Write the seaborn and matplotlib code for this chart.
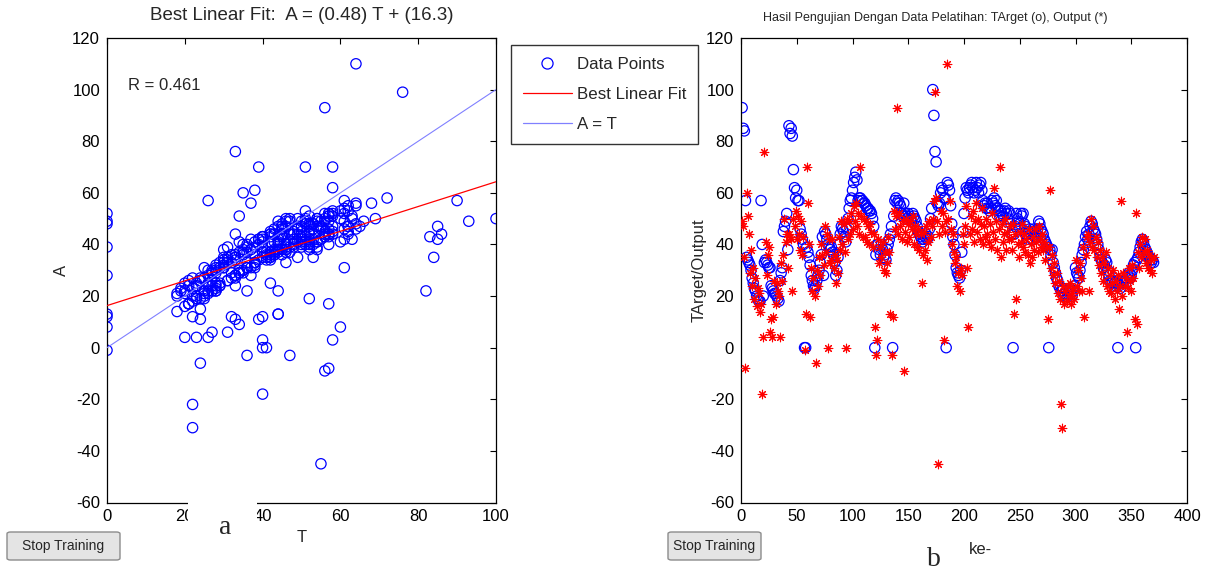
import numpy as np
import pandas as pd
import matplotlib
matplotlib.use("Agg")
import matplotlib.pyplot as plt
import seaborn as sns
from matplotlib.lines import Line2D
from matplotlib.patches import FancyBboxPatch, Rectangle

# target (o) per sample, samples 1..370
target = [
    93, 85, 84, 57, 35, 34, 33, 32, 30, 27,
    25, 23, 22, 20, 19, 18, 18, 57, 40, 20,
    33, 34, 33, 32, 31, 31, 24, 23, 22, 21,
    21, 20, 19, 18, 26, 29, 31, 45, 47, 49,
    52, 38, 86, 83, 85, 82, 69, 62, 58, 61,
    57, 57, 46, 44, 42, 40, 0, 0, 39, 37,
    35, 32, 28, 26, 24, 23, 24, 26, 28, 30,
    33, 36, 43, 28, 45, 44, 42, 40, 39, 38,
    39, 37, 36, 33, 28, 30, 35, 40, 44, 47,
    46, 45, 43, 41, 46, 50, 54, 57, 58, 61,
    64, 66, 68, 65, 57, 58, 58, 57, 57, 56,
    56, 55, 54, 54, 53, 53, 52, 50, 47, 0,
    36, 40, 40, 38, 36, 40, 38, 35, 36, 34,
    38, 40, 42, 44, 47, 0, 51, 57, 58, 56,
    57, 56, 55, 52, 51, 56, 52, 51, 50, 52,
    51, 50, 49, 52, 51, 50, 49, 47, 45, 44,
    43, 42, 41, 42, 43, 44, 42, 43, 46, 50,
    54, 100, 90, 76, 72, 56, 55, 56, 60, 62,
    61, 58, 58, 0, 64, 63, 61, 55, 48, 43,
    40, 36, 31, 29, 28, 27, 30, 37, 45, 52,
    58, 62, 61, 60, 62, 63, 64, 62, 60, 61,
    64, 62, 60, 63, 64, 61, 57, 55, 56, 54,
    56, 54, 53, 54, 57, 56, 58, 55, 57, 54,
    53, 51, 53, 52, 51, 53, 54, 52, 50, 53,
    52, 48, 44, 0, 44, 47, 52, 50, 49, 48,
    52, 51, 52, 48, 47, 44, 42, 45, 46, 44,
    42, 45, 46, 43, 44, 46, 49, 48, 46, 45,
    44, 42, 41, 40, 39, 0, 38, 36, 38, 33,
    31, 29, 27, 26, 24, 23, 22, 22, 23, 21,
    20, 22, 21, 22, 23, 21, 20, 22, 24, 31,
    29, 28, 27, 30, 33, 36, 38, 40, 43, 45,
    42, 44, 47, 49, 48, 46, 45, 44, 42, 40,
    38, 35, 34, 33, 31, 32, 34, 33, 30, 28,
    26, 25, 26, 27, 25, 24, 25, 0, 24, 23,
    26, 25, 27, 26, 25, 27, 28, 29, 27, 28,
    30, 32, 33, 0, 34, 35, 37, 39, 41, 42,
    41, 39, 38, 37, 36, 35, 34, 33, 34, 33,
]

# network output (*) per sample
output = [
    49, 47, 35, -8, 60, 51, 44, 29, 38, 24,
    31, 19, 27, 16, 23, 21, 14, 17, -18, 4,
    76, 41, 28, 36, 39, 6, 11, 4, 12, 26,
    17, 25, 22, 20, 4, 33, 26, 36, 50, 41,
    44, 31, 44, 43, 42, 22, 50, 47, 53, 42,
    51, 44, 38, 49, 36, 43, -1, 13, 70, 56,
    40, 12, 31, 22, 27, 20, -6, 30, 24, 35,
    28, 40, 36, 32, 47, 37, 44, 0, 42, 33,
    34, 42, 31, 36, 25, 34, 29, 43, 38, 49,
    40, 48, 37, 0, 50, 42, 49, 44, 52, 46,
    55, 49, 56, 47, 52, 44, 70, 51, 43, 50,
    43, 49, 41, 47, 40, 48, 45, 39, 44, 8,
    -3, 3, 42, 33, 39, 35, 41, 30, 37, 29,
    33, 43, 37, 13, -3, 12, 53, 46, 51, 93,
    44, 52, 47, 42, 49, -9, 45, 50, 41, 48,
    43, 49, 46, 51, 40, 47, 44, 39, 46, 38,
    44, 25, 36, 45, 38, 47, 34, 41, 49, 43,
    47, 50, 57, 99, 58, 49, -45, 44, 53, 47,
    52, 3, 45, 49, 110, 50, 57, 46, 40, 44,
    37, 33, 35, 24, 29, 22, 31, 28, 44, 40,
    47, 55, 31, 8, 44, 51, 46, 53, 41, 49,
    56, 45, 50, 42, 48, 54, 40, 47, 43, 50,
    44, 41, 48, 39, 52, 45, 62, 42, 49, 38,
    46, 70, 35, 48, 41, 44, 50, 38, 45, 42,
    47, 42, 38, 48, 13, 44, 19, 40, 35, 45,
    41, 48, 39, 44, 37, 42, 36, 46, 33, 40,
    35, 43, 38, 46, 41, 37, 47, 42, 39, 44,
    38, 41, 34, 39, 11, 39, 61, 31, 36, 28,
    33, 25, 29, 21, 26, 19, -22, -31, 24, 17,
    22, 18, 24, 20, 25, 17, 21, 23, 19, 34,
    24, 30, 22, 33, 27, 22, 39, 12, 36, 43,
    44, 22, 41, 50, 39, 47, 38, 43, 35, 41,
    32, 38, 29, 35, 26, 33, 37, 24, 31, 22,
    28, 21, 25, 30, 19, 26, 22, 28, 15, 24,
    57, 20, 29, 24, 27, 6, 23, 31, 26, 22,
    32, 27, 11, 52, 9, 37, 31, 40, 35, 43,
    37, 42, 33, 38, 31, 36, 30, 34, 29, 35,
]

fit_slope = 0.48
fit_intercept = 16.3
r_value = 0.461
line_t = [0, 100]
legend_labels = ["Data Points", "Best Linear Fit", "A = T"]

sns.set_theme(style="white")
plt.rcParams['font.family'] = ['Liberation Sans', 'DejaVu Sans']
plt.rcParams['axes.unicode_minus'] = False

df = pd.DataFrame({"ke": np.arange(1, len(target) + 1), "target": target, "output": output})

W, H = 1209, 573
fig = plt.figure(figsize=(W / 100, H / 100), dpi=100)
ax1 = fig.add_axes([107 / W, 70.5 / H, 389 / W, 464.5 / H])
ax2 = fig.add_axes([741 / W, 70.5 / H, 446 / W, 464.5 / H])

blue_line = '#8080ff'
star = (8, 2, 0)

# left: regression plot
sns.scatterplot(data=df, x="target", y="output", marker="o", s=55, facecolor="none",
                edgecolor="blue", linewidth=0.9, ax=ax1, zorder=2)
sns.lineplot(x=line_t, y=[fit_slope * t + fit_intercept for t in line_t], color="red",
             lw=0.9, ax=ax1, zorder=3)
sns.lineplot(x=line_t, y=line_t, color=blue_line, lw=0.8, ax=ax1, zorder=3)
ax1.set_xlim(0, 100)
ax1.set_xticks(range(0, 101, 20))
ax1.set_xlabel("T", fontsize=12, labelpad=4)
ax1.set_ylabel("A", fontsize=12, labelpad=2)
ax1.set_title("Best Linear Fit:  A = (%.2g) T + (%.3g)" % (fit_slope, fit_intercept),
              fontsize=13.5, pad=13)
ax1.text(5.4, 101.5, "R = %.3f" % r_value, fontsize=12, va="center")

# right: target vs output over samples
sns.scatterplot(data=df, x="ke", y="target", marker="o", s=55, facecolor="none",
                edgecolor="blue", linewidth=0.9, ax=ax2, zorder=2)
sns.scatterplot(data=df, x="ke", y="output", marker=star, s=38, color="red",
                linewidth=0.8, ax=ax2, zorder=3)
ax2.set_xlim(0, 400)
ax2.set_xticks(range(0, 401, 50))
ax2.set_xlabel("ke-", fontsize=12)
ax2.xaxis.set_label_coords(0.536, -0.085)
ax2.set_ylabel("TArget/Output", fontsize=12, labelpad=0)
ax2.set_title("Hasil Pengujian Dengan Data Pelatihan: TArget (o), Output (*)",
              fontsize=9, pad=12, x=0.435)

for ax in (ax1, ax2):
    ax.set_ylim(-60, 120)
    ax.set_yticks(range(-60, 121, 20))
    ax.tick_params(direction="in", top=True, right=True, length=4, width=0.8,
                   labelsize=12, colors="black", pad=5)
    for sp in ax.spines.values():
        sp.set_color("black")
        sp.set_linewidth(0.9)

handles = [
    Line2D([], [], marker="o", ls="", mfc="none", mec="blue", ms=8, mew=0.9),
    Line2D([], [], color="red", lw=0.9),
    Line2D([], [], color=blue_line, lw=0.9),
]
leg = fig.legend(handles, legend_labels, loc="upper left",
                 bbox_to_anchor=(511 / W, 1 - 45 / H), frameon=True, fancybox=False,
                 edgecolor="black", fontsize=12.2, handlelength=2.9, labelspacing=0.9,
                 borderpad=0.7, handletextpad=0.3, borderaxespad=0)
leg.get_frame().set_linewidth(1.0)

# panel letters, the white patch under "a" and the GUI buttons
fig.add_artist(Rectangle((188 / W, 1 - 548 / H), 69 / W, 47 / H, transform=fig.transFigure,
                         facecolor="white", edgecolor="none", zorder=10))
fig.text(225 / W, 1 - 527 / H, "a", family="Liberation Serif", fontsize=20,
         ha="center", va="center", zorder=11)
fig.text(934 / W, 1 - 560 / H, "b", family="Liberation Serif", fontsize=20,
         ha="center", va="center", zorder=11)

for x0, x1 in [(7, 120), (668, 761)]:
    fig.add_artist(FancyBboxPatch((x0 / W, 1 - 560 / H), (x1 - x0) / W, 28 / H,
                                  boxstyle="round,pad=0,rounding_size=0.003",
                                  transform=fig.transFigure, facecolor="#e4e4e4",
                                  edgecolor="#8c8c8c", linewidth=1.0, zorder=10))
    fig.text((x0 + x1) / 2 / W, 1 - 546 / H, "Stop Training", fontsize=10,
             ha="center", va="center", zorder=11)

fig.savefig("out.png", dpi=100)
